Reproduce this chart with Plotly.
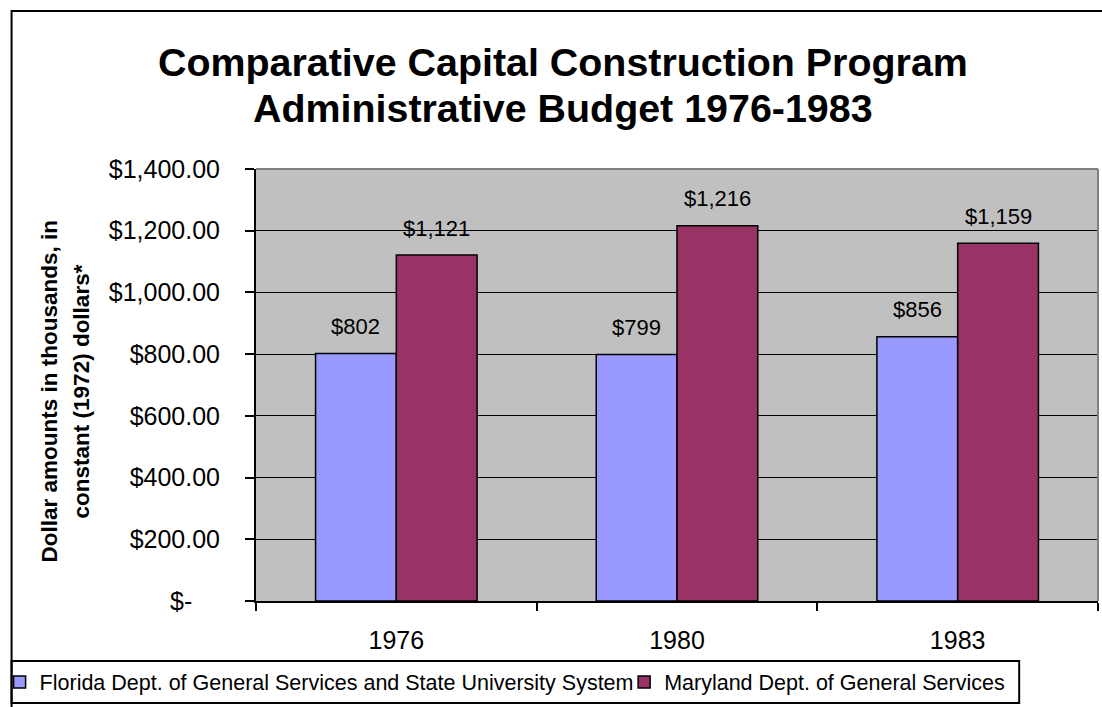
import plotly.graph_objects as go

# ---------------- data ----------------
categories = ["1976", "1980", "1983"]
florida = [802, 799, 856]
maryland = [1121, 1216, 1159]
series_names = [
    "Florida Dept. of General Services and State University System",
    "Maryland Dept. of General Services",
]
series_colors = ["#9999FF", "#993366"]
y_tickvals = [0, 200, 400, 600, 800, 1000, 1200, 1400]
y_ticktext = ["$-\u00a0\u00a0\u00a0\u00a0", "$200.00", "$400.00", "$600.00",
              "$800.00", "$1,000.00", "$1,200.00", "$1,400.00"]
title_lines = ["Comparative Capital Construction Program",
               "Administrative Budget 1976-1983"]
ytitle_lines = ["Dollar amounts in thousands, in",
                "constant (1972) dollars*"]

# ---------------- layout geometry ----------------
W, H = 1102, 707
ML, MR, MT, MB = 254, 4, 169, 106
PW = W - ML - MR
PH = H - MT - MB
BARGAP = 0.4245
FONT = "Arial, 'Liberation Sans', sans-serif"


def px_x(px):
    return (px - ML) / PW


def px_y(py):
    return (H - MB - py) / PH


fig = go.Figure()
all_series = [florida, maryland]
legend_ids = ["legend", "legend2"]
for name, vals, col, lg in zip(series_names, all_series, series_colors, legend_ids):
    fig.add_trace(go.Bar(
        x=categories, y=vals, name=name, legend=lg,
        marker=dict(color=col, line=dict(color="black", width=1.5)),
    ))

# data labels (category axis -> annotation x uses category index)
cat_w = PW / len(categories)
bar_w = cat_w * (1 - BARGAP) / len(all_series)
annotations = []
for i, vals in enumerate(all_series):
    shift = (i - (len(all_series) - 1) / 2) * bar_w
    for j, v in enumerate(vals):
        annotations.append(dict(
            x=j, y=v, xref="x", yref="y", text=f"${v:,}", showarrow=False,
            xshift=shift, yshift=27, xanchor="center", yanchor="middle",
            font=dict(family=FONT, size=22, color="black"),
        ))

for line, yc in zip(title_lines, [62, 108]):
    annotations.append(dict(
        x=px_x(562), y=px_y(yc), xref="paper", yref="paper", text=line,
        showarrow=False, xanchor="center", yanchor="middle",
        font=dict(family=FONT, size=39.4, color="black", weight="bold"),
    ))
for line, xc in zip(ytitle_lines, [47, 79]):
    annotations.append(dict(
        x=px_x(xc), y=px_y(391), xref="paper", yref="paper", text=line,
        showarrow=False, xanchor="center", yanchor="middle", textangle=-90,
        font=dict(family=FONT, size=22.5, color="black", weight="bold"),
    ))

shapes = [
    # outer chart border (left & top visible)
    dict(type="rect", xref="paper", yref="paper",
         x0=px_x(9), x1=px_x(1115), y0=px_y(720), y1=px_y(11),
         line=dict(color="black", width=2), fillcolor="rgba(0,0,0,0)"),
    # plot area border top / right (gray)
    dict(type="line", xref="paper", yref="paper", x0=0, x1=1, y0=1, y1=1,
         line=dict(color="#808080", width=2), layer="above"),
    dict(type="line", xref="paper", yref="paper", x0=1, x1=1, y0=0, y1=1,
         line=dict(color="#808080", width=2), layer="above"),
    # legend box
    dict(type="rect", xref="paper", yref="paper",
         x0=px_x(9), x1=px_x(1019), y0=px_y(703), y1=px_y(661),
         line=dict(color="black", width=2), fillcolor="rgba(0,0,0,0)"),
]

legend_common = dict(
    orientation="h", xanchor="left", y=px_y(682), yanchor="middle",
    font=dict(family=FONT, size=21.5, color="black"),
    bgcolor="rgba(0,0,0,0)", borderwidth=0,
)

fig.update_layout(
    width=W, height=H,
    margin=dict(l=ML, r=MR, t=MT, b=MB),
    paper_bgcolor="white", plot_bgcolor="#C0C0C0",
    barmode="group", bargap=BARGAP, bargroupgap=0,
    font=dict(family=FONT, color="black"),
    showlegend=True,
    legend=dict(x=px_x(1), indentation=-4, **legend_common),
    legend2=dict(x=px_x(623), **legend_common),
    annotations=annotations,
    shapes=shapes,
)

fig.update_yaxes(
    range=[0, 1400], tickvals=y_tickvals, ticktext=y_ticktext,
    showgrid=True, gridcolor="black", gridwidth=1, zeroline=False,
    showline=True, linecolor="black", linewidth=2,
    ticks="outside", ticklen=9, tickwidth=2, tickcolor="black",
    ticklabelstandoff=20,
    tickfont=dict(family=FONT, size=25, color="black"),
)
fig.update_xaxes(
    type="category",
    showgrid=False, showline=True, linecolor="black", linewidth=2,
    ticks="outside", tickson="boundaries", ticklen=8, tickwidth=2, tickcolor="black",
    ticklabelstandoff=16,
    tickfont=dict(family=FONT, size=25, color="black"),
)

fig.write_html("out.html", config={"displayModeBar": False},
               post_script="document.body.style.margin='0';")
